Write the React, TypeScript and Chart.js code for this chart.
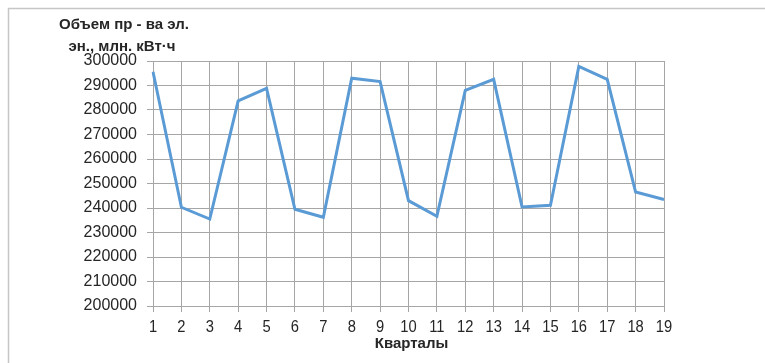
import React, { useEffect, useRef } from "react";
import { Chart, registerables } from "chart.js";

Chart.register(...registerables);

// Квартальные данные объёма производства электроэнергии
const quarters: string[] = [
  "1", "2", "3", "4", "5", "6", "7", "8", "9", "10",
  "11", "12", "13", "14", "15", "16", "17", "18", "19",
];
const production: number[] = [
  295600, 240300, 235500, 283700, 288800, 239500, 236200, 293000, 291600, 243000,
  236600, 288000, 292500, 240400, 241100, 297800, 292500, 246500, 243500,
];
const yMin = 200000;
const yMax = 300000;
const yStep = 10000;
const yTitleLines: string[] = ["Объем пр - ва эл.", "эн., млн. кВт·ч"];
const xTitle = "Кварталы";

const W = 765;
const H = 363;
const TEXT = "#262626";

// Подписи оси X выводятся слегка суженным шрифтом
function drawNarrow(ctx: CanvasRenderingContext2D, text: string, x: number, y: number, sx: number) {
  ctx.save();
  ctx.translate(x, y);
  ctx.scale(sx, 1);
  ctx.fillText(text, 0, 0);
  ctx.restore();
}

const decorations = {
  id: "decorations",
  afterDraw(chart: Chart) {
    const ctx = chart.ctx;
    ctx.save();
    // рамка слева и сверху
    ctx.strokeStyle = "#c6c6c6";
    ctx.lineWidth = 1.5;
    ctx.beginPath();
    ctx.moveTo(8.5, H);
    ctx.lineTo(8.5, 8.5);
    ctx.lineTo(W, 8.5);
    ctx.stroke();

    ctx.fillStyle = TEXT;
    ctx.textAlign = "center";
    ctx.textBaseline = "middle";
    ctx.font = "bold 15px 'Liberation Sans', sans-serif";
    ctx.fillText(yTitleLines[0], 124, 25);
    ctx.fillText(yTitleLines[1], 122, 47);

    // подписи кварталов
    const xs = chart.scales.x;
    ctx.font = "16px 'Liberation Sans', sans-serif";
    const labels = chart.data.labels as string[];
    labels.forEach((lab, i) => {
      drawNarrow(ctx, lab, xs.getPixelForTick(i), 328, 0.92);
    });

    ctx.font = "bold 15px 'Liberation Sans', sans-serif";
    ctx.fillText(xTitle, (chart.chartArea.left + chart.chartArea.right) / 2 + 3, 344);
    ctx.restore();
  },
};

export default function App() {
  const ref = useRef<HTMLCanvasElement | null>(null);

  useEffect(() => {
    document.body.style.margin = "0";
    const canvas = ref.current;
    if (!canvas) return;
    const chart = new Chart(canvas, {
      type: "line",
      data: {
        labels: quarters,
        datasets: [
          {
            data: production,
            borderColor: "#5b9bd5",
            backgroundColor: "#5b9bd5",
            borderWidth: 3,
            pointRadius: 0,
            tension: 0,
          },
        ],
      },
      options: {
        responsive: false,
        animation: false,
        devicePixelRatio: 1,
        layout: { padding: { top: 61, right: W - 664, bottom: 0, left: 0 } },
        plugins: {
          legend: { display: false },
          tooltip: { enabled: false },
        },
        scales: {
          x: {
            offset: false,
            grid: {
              color: "#a6a6a6",
              lineWidth: 1,
              tickLength: 6,
              drawTicks: true,
            },
            border: { color: "#a6a6a6" },
            ticks: {
              display: false,
              autoSkip: false,
              maxRotation: 0,
            },
            afterFit(scale: any) {
              scale.height = H - 306;
            },
          },
          y: {
            min: yMin,
            max: yMax,
            grid: { color: "#a6a6a6", lineWidth: 1, tickLength: 6 },
            border: { color: "#a6a6a6" },
            ticks: {
              stepSize: yStep,
              color: TEXT,
              padding: 10,
              font: { family: "'Liberation Sans', sans-serif", size: 16 },
              callback: (v: any) => String(v),
            },
            afterFit(scale: any) {
              scale.width = 153;
            },
          },
        },
      },
      plugins: [decorations],
    });
    return () => chart.destroy();
  }, []);

  return (
    <div style={{ position: "absolute", left: 0, top: 0, width: W, height: H, background: "#fff" }}>
      <canvas ref={ref} width={W} height={H} style={{ display: "block", width: W, height: H }} />
    </div>
  );
}
